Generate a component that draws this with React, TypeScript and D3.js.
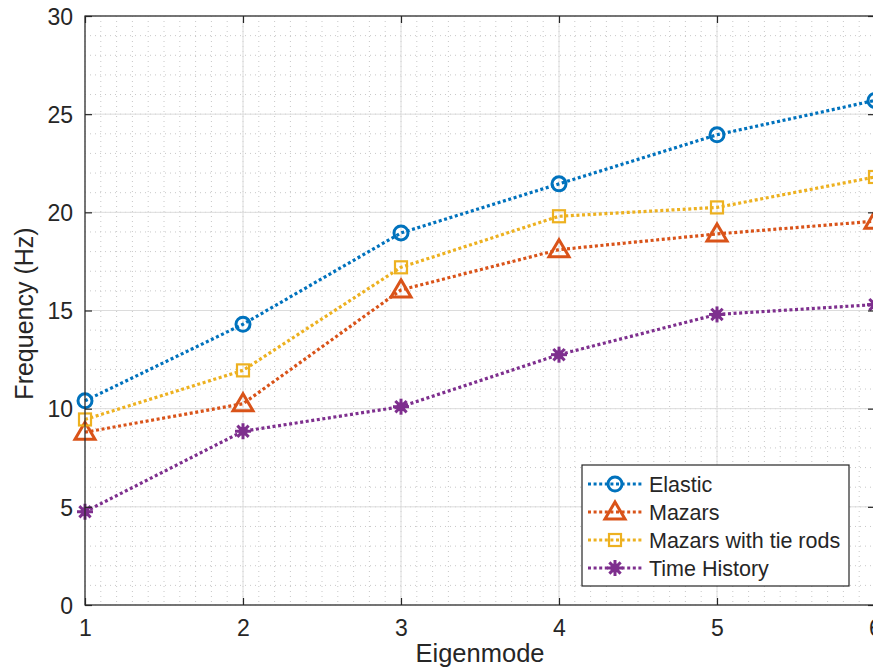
import { useEffect, useRef } from 'react';
import * as d3 from 'd3';

const modes = [1, 2, 3, 4, 5, 6];
const elastic = [10.4, 14.3, 18.95, 21.45, 23.95, 25.7];
const mazars = [8.8, 10.25, 16.05, 18.1, 18.9, 19.55];
const tieRods = [9.45, 11.95, 17.2, 19.8, 20.25, 21.8];
const timeHistory = [4.75, 8.85, 10.1, 12.75, 14.8, 15.3];
const yTicks = [0, 5, 10, 15, 20, 25, 30];

const seriesList = [
    { name: 'Elastic', values: elastic, color: '#0072BD', marker: 'circle' },
    { name: 'Mazars', values: mazars, color: '#D95319', marker: 'triangle' },
    { name: 'Mazars with tie rods', values: tieRods, color: '#EDB120', marker: 'square' },
    { name: 'Time History', values: timeHistory, color: '#7E2F8E', marker: 'star' },
];

const FONT = '"Liberation Sans", Arial, Helvetica, sans-serif';

const drawMarker = (g: d3.Selection<SVGGElement, unknown, null, undefined>, type: string, x: number, y: number, color: string) => {
    if (type === 'circle') {
        g.append('circle').attr('cx', x).attr('cy', y).attr('r', 7)
            .attr('fill', 'none').attr('stroke', color).attr('stroke-width', 3);
    } else if (type === 'triangle') {
        const s = 10;
        g.append('path')
            .attr('d', `M${x},${y - s} L${x + s},${y + s * 0.7} L${x - s},${y + s * 0.7} Z`)
            .attr('fill', 'none').attr('stroke', color).attr('stroke-width', 3)
            .attr('stroke-linejoin', 'miter');
    } else if (type === 'square') {
        g.append('rect').attr('x', x - 6).attr('y', y - 6).attr('width', 12).attr('height', 12)
            .attr('fill', 'none').attr('stroke', color).attr('stroke-width', 2.2);
    } else {
        for (let i = 0; i < 4; i++) {
            const a = (i * Math.PI) / 4;
            g.append('line')
                .attr('x1', x - 8 * Math.cos(a)).attr('y1', y - 8 * Math.sin(a))
                .attr('x2', x + 8 * Math.cos(a)).attr('y2', y + 8 * Math.sin(a))
                .attr('stroke', color).attr('stroke-width', 3);
        }
        g.append('circle').attr('cx', x).attr('cy', y).attr('r', 4.5).attr('fill', color);
    }
};

const App = () => {
    const ref = useRef<SVGSVGElement>(null);

    useEffect(() => {
        if (!ref.current) return;
        const svg = d3.select(ref.current);
        svg.selectAll('*').remove();

        const left = 85, right = 875, top = 16, bottom = 605;
        const x = d3.scaleLinear().domain([1, 6]).range([left, right]);
        const y = d3.scaleLinear().domain([0, 30]).range([bottom, top]);

        svg.append('rect').attr('x', left).attr('y', top)
            .attr('width', right - left).attr('height', bottom - top).attr('fill', '#fff');

        // minor grid
        const grid = svg.append('g');
        d3.range(1, 6.001, 0.1).forEach(v => {
            grid.append('line').attr('x1', x(v)).attr('x2', x(v)).attr('y1', top).attr('y2', bottom)
                .attr('stroke', '#c8c8c8').attr('stroke-width', 1).attr('stroke-dasharray', '1,4');
        });
        d3.range(0, 30.001, 1).forEach(v => {
            grid.append('line').attr('x1', left).attr('x2', right).attr('y1', y(v)).attr('y2', y(v))
                .attr('stroke', '#c8c8c8').attr('stroke-width', 1).attr('stroke-dasharray', '1,4');
        });
        // major grid
        modes.forEach(v => {
            grid.append('line').attr('x1', x(v)).attr('x2', x(v)).attr('y1', top).attr('y2', bottom)
                .attr('stroke', '#dcdcdc').attr('stroke-width', 1);
        });
        yTicks.forEach(v => {
            grid.append('line').attr('x1', left).attr('x2', right).attr('y1', y(v)).attr('y2', y(v))
                .attr('stroke', '#dcdcdc').attr('stroke-width', 1);
        });

        // series
        const line = d3.line<number>().x((_, i) => x(modes[i])).y(d => y(d));
        seriesList.forEach(s => {
            svg.append('path').datum(s.values).attr('d', line)
                .attr('fill', 'none').attr('stroke', s.color).attr('stroke-width', 3.2)
                .attr('stroke-dasharray', '3,2.6');
            const mg = svg.append('g');
            s.values.forEach((v, i) => drawMarker(mg, s.marker, x(modes[i]), y(v), s.color));
        });

        // axes box
        const axisColor = '#262626';
        svg.append('rect').attr('x', left).attr('y', top)
            .attr('width', right - left).attr('height', bottom - top)
            .attr('fill', 'none').attr('stroke', axisColor).attr('stroke-width', 1.2);

        const xAxis = d3.axisBottom(x).tickValues(modes).tickFormat(d3.format('d'))
            .tickSizeInner(-7).tickSizeOuter(0);
        const gx = svg.append('g').attr('transform', `translate(0,${bottom})`).call(xAxis);
        gx.selectAll('text').attr('y', 31).attr('dy', 0);
        const xAxisTop = d3.axisTop(x).tickValues(modes).tickFormat(() => '').tickSizeInner(-7).tickSizeOuter(0);
        const gxt = svg.append('g').attr('transform', `translate(0,${top})`).call(xAxisTop);

        const yAxis = d3.axisLeft(y).tickValues(yTicks).tickFormat(d3.format('d'))
            .tickSizeInner(-7).tickSizeOuter(0);
        const gy = svg.append('g').attr('transform', `translate(${left},0)`).call(yAxis);
        gy.selectAll('text').attr('x', -12).attr('dy', '0.36em');
        const yAxisRight = d3.axisRight(y).tickValues(yTicks).tickFormat(() => '').tickSizeInner(-7).tickSizeOuter(0);
        const gyr = svg.append('g').attr('transform', `translate(${right},0)`).call(yAxisRight);

        [gx, gxt, gy, gyr].forEach(g => {
            g.select('.domain').remove();
            g.selectAll('line').attr('stroke', axisColor).attr('stroke-width', 1.2);
            g.selectAll('text').attr('fill', '#262626').style('font-family', FONT).style('font-size', '23px');
        });

        svg.append('text').attr('x', (left + right) / 2).attr('y', 662)
            .attr('text-anchor', 'middle').attr('fill', '#262626')
            .style('font-family', FONT).style('font-size', '25.5px').text('Eigenmode');
        svg.append('text').attr('transform', `translate(33,${(top + bottom) / 2 + 3}) rotate(-90)`)
            .attr('text-anchor', 'middle').attr('fill', '#262626')
            .style('font-family', FONT).style('font-size', '25px').text('Frequency (Hz)');

        // legend
        const lg = svg.append('g');
        lg.append('rect').attr('x', 582).attr('y', 465).attr('width', 267).attr('height', 121)
            .attr('fill', '#fff').attr('stroke', axisColor).attr('stroke-width', 1.2);
        seriesList.forEach((s, i) => {
            const ly = 484 + i * 28;
            lg.append('line').attr('x1', 588).attr('x2', 643).attr('y1', ly).attr('y2', ly)
                .attr('stroke', s.color).attr('stroke-width', 3.2).attr('stroke-dasharray', '3,2.6');
            drawMarker(lg, s.marker, 615, ly, s.color);
            lg.append('text').attr('x', 649).attr('y', ly + 8).attr('fill', '#262626')
                .style('font-family', FONT).style('font-size', '21.5px').text(s.name);
        });
    }, []);

    return <svg ref={ref} width={881} height={669} style={{ display: 'block', marginTop: -8, marginLeft: -8 }} />;
};

export default App;
